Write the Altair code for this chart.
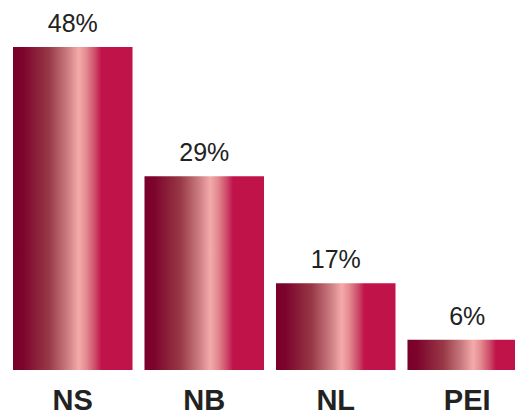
import altair as alt
import pandas as pd

regions = ["NS", "NB", "NL", "PEI"]
share_labels = ["48%", "29%", "17%", "6%"]
# drawn bar heights (in the chart's value units)
bar_heights = [48, 28.8, 12.9, 4.5]

df = pd.DataFrame({"region": regions, "label": share_labels, "height": bar_heights})

gradient = alt.Gradient(
    gradient="linear",
    x1=0, x2=1, y1=0, y2=0,
    stops=[
        alt.GradientStop(offset=0.0, color="#78002a"),
        alt.GradientStop(offset=0.08, color="#7c042c"),
        alt.GradientStop(offset=0.3, color="#983846"),
        alt.GradientStop(offset=0.45, color="#c87a7e"),
        alt.GradientStop(offset=0.55, color="#f5aaaa"),
        alt.GradientStop(offset=0.61, color="#e48c92"),
        alt.GradientStop(offset=0.69, color="#cc4a68"),
        alt.GradientStop(offset=0.74, color="#c0134a"),
        alt.GradientStop(offset=1.0, color="#c0134a"),
    ],
)

base = alt.Chart(df).encode(
    x=alt.X(
        "region:N",
        sort=regions,
        scale=alt.Scale(range=[0, 514], paddingInner=0.091, paddingOuter=0),
        axis=alt.Axis(
            title=None, labelAngle=0, labelFontSize=29, labelFontWeight="bold",
            labelFont="Liberation Sans", labelColor="#222222", domain=False,
            ticks=False, labelPadding=16,
        ),
    ),
    y=alt.Y("height:Q", scale=alt.Scale(domain=[0, 55], nice=False), axis=None),
)

bars = base.mark_bar(color=gradient, clip=True)
text = base.mark_text(
    baseline="bottom", dy=-10, fontSize=25, font="Liberation Sans", color="#222222"
).encode(text="label:N")

chart = (
    (bars + text)
    .properties(
        width=502,
        height=370,
        padding={"left": 13, "top": 0, "right": 0, "bottom": 44},
        autosize=alt.AutoSizeParams(type="none"),
        background="white",
    )
    .configure_view(stroke=None)
)

chart.save("out.html", embed_options={"renderer": "svg", "actions": False})
